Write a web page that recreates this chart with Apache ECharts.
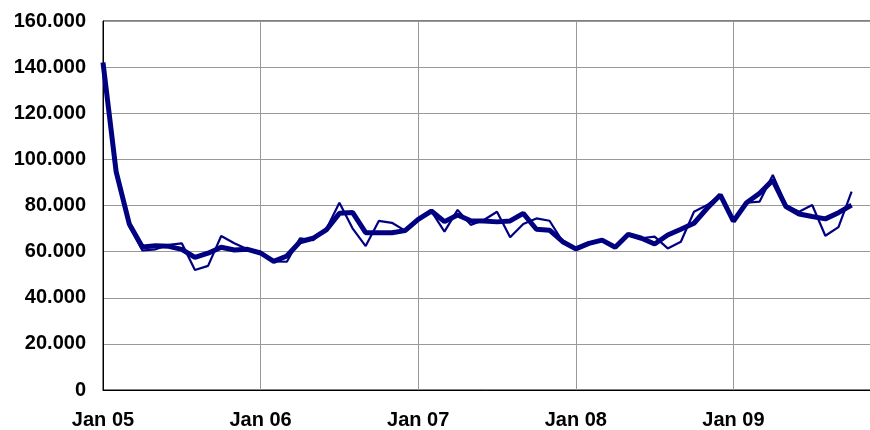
<!DOCTYPE html>
<html lang="de">
<head>
    <meta charset="UTF-8">
    <title>Monatswerte 2005-2009</title>
    <script src="https://cdn.jsdelivr.net/npm/echarts@6/dist/echarts.min.js"></script>
</head>
<body style="margin: 0; background: #fff">
<div id="chart" style="width: 870px; height: 430px"></div>

<script>
    // tick labels on the x axis (one per January)
    let yearLabels = ['Jan 05', 'Jan 06', 'Jan 07', 'Jan 08', 'Jan 09'];

    // monthly values, Jan 05 .. Oct 09
    let originalValues = [
        142000, 94700, 71000, 60500, 61000, 62900, 63600, 52000, 53800, 66800, 63600, 61000,
        59400, 55800, 55600, 65800, 65000, 69700, 81200, 70100, 62400, 73300, 72500, 69100,
        74000, 77600, 68700, 78100, 71600, 73700, 77300, 66200, 72000, 74400, 73400, 64300,
        61200, 63600, 64500, 61900, 67500, 65800, 66500, 61400, 64300, 77300, 80200, 84600,
        73200, 81200, 81700, 93200, 80200, 77300, 80200, 66900, 70600, 86000
    ];
    let smoothValues = [
        142000, 94700, 72000, 62000, 62500, 62300, 61000, 57500, 59300, 61900, 60700, 61000,
        59400, 55800, 58100, 64300, 65800, 69400, 76600, 77000, 68200, 68200, 68200, 69100,
        74000, 77600, 73000, 75900, 73400, 73300, 72900, 73300, 76600, 69700, 69300, 64300,
        61200, 63600, 65000, 61900, 67500, 65800, 63300, 67200, 69700, 72300, 78800, 84600,
        73200, 81200, 85300, 91000, 79500, 76300, 75200, 74200, 76900, 80200
    ];

    function toPairs(values) {
        return values.map(function (v, i) { return [i, v]; });
    }

    function formatThousands(v) {
        return String(v).replace(/\B(?=(\d{3})+(?!\d))/g, '.');
    }

    let labelFont = {
        fontFamily: 'Liberation Sans, Arial, sans-serif',
        fontWeight: 'bold',
        fontSize: 20,
        color: '#000'
    };

    let myChart = echarts.init(document.getElementById('chart'));
    let option = {
        animation: false,
        grid: {
            left: 103,
            top: 21,
            width: 788,
            bottom: 40,
            outerBoundsMode: 'none',
            containLabel: false,
            show: true,
            borderColor: '#000',
            borderWidth: 1
        },
        xAxis: {
            type: 'value',
            min: 0,
            max: 60,
            interval: 12,
            axisLine: { lineStyle: { color: '#000', width: 1 } },
            axisTick: { show: false },
            splitLine: { show: true, lineStyle: { color: '#999', width: 1 } },
            axisLabel: Object.assign({
                margin: 20,
                formatter: function (v) { return yearLabels[v / 12] || ''; }
            }, labelFont)
        },
        yAxis: {
            type: 'value',
            min: 0,
            max: 160000,
            interval: 20000,
            axisLine: { show: true, lineStyle: { color: '#000', width: 1 } },
            axisTick: { show: false },
            splitLine: { show: true, lineStyle: { color: '#999', width: 1 } },
            axisLabel: Object.assign({
                margin: 17,
                formatter: function (v) { return formatThousands(v); }
            }, labelFont)
        },
        series: [
            {
                name: 'Original',
                type: 'line',
                data: toPairs(originalValues),
                symbol: 'none',
                lineStyle: { color: '#000080', width: 2.2 },
                z: 3
            },
            {
                name: 'Trend',
                type: 'line',
                data: toPairs(smoothValues),
                symbol: 'none',
                lineStyle: { color: '#000080', width: 5 },
                z: 4
            }
        ]
    };
    myChart.setOption(option);
</script>
</body>
</html>
